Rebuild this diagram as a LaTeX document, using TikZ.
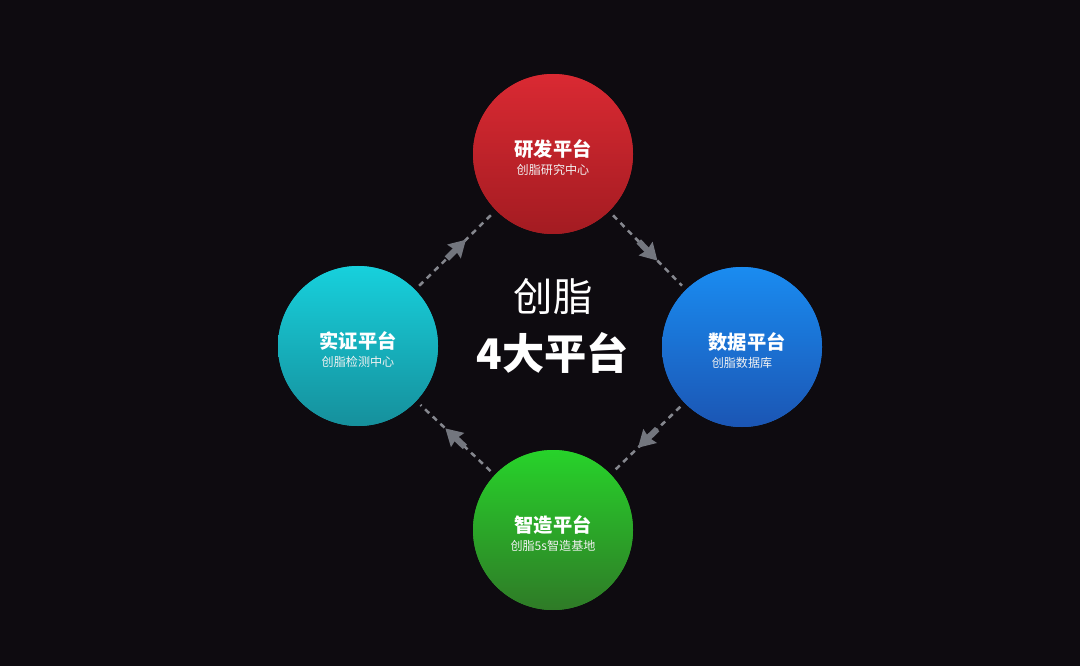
\documentclass[tikz,border=0pt]{standalone}
\usepackage{fontspec}
\setmainfont{Noto Sans CJK SC}
\usetikzlibrary{positioning,arrows.meta,decorations.markings}

\definecolor{bg}{HTML}{0E0B10}
\definecolor{linegray}{HTML}{85878E}
\definecolor{headgray}{HTML}{73767E}
\definecolor{redtop}{HTML}{DB2A33}
\definecolor{redbot}{HTML}{A21B21}
\definecolor{tealtop}{HTML}{17D2DE}
\definecolor{tealbot}{HTML}{168E9A}
\definecolor{bluetop}{HTML}{1A8DF2}
\definecolor{bluebot}{HTML}{1B54B2}
\definecolor{greentop}{HTML}{27D52A}
\definecolor{greenbot}{HTML}{2F7827}

\tikzset{
	platform/.style={shape=circle, minimum size=4cm, inner sep=0pt, align=center, text=white,
		fill=#1top!50!#1bot,
		path picture={\shade[top color=#1top, bottom color=#1bot]
			([shift={(-3pt,-3pt)}]path picture bounding box.south west) rectangle
			([shift={(3pt,3pt)}]path picture bounding box.north east);}},
	link/.style={draw=linegray, line width=1.8pt, dash pattern=on 4pt off 3.5pt,
		shorten <=4pt, shorten >=4pt,
		postaction={decorate},
		decoration={markings, mark=at position 0.63 with {
			\fill[headgray] (0,0) -- (-12pt,7pt) -- (-10.5pt,0) -- (-12pt,-7pt) -- cycle;
			\fill[headgray] (-19pt,-2.2pt) rectangle (-10pt,2.2pt);}}}
}

\newcommand{\plat}[2]{{\fontsize{13.7}{16}\selectfont\bfseries\rule{0pt}{17pt}#1}\\[1pt]{\fontsize{8.6}{10}\selectfont\color{white!90!gray}#2}}

\begin{document}
\begin{tikzpicture}
	\fill[bg] (0,0) rectangle (27,16.65);
	\useasboundingbox (0,0) rectangle (27,16.65);

	\node[platform=red] (rd) at (13.825,12.8) {\plat{研发平台}{创脂研究中心}};
	\node[platform=blue] (data) at (18.55,7.975) {\hspace{0.25cm}\plat{数据平台}{创脂数据库}};
	\node[platform=green] (mfg) at (13.825,3.4) {\plat{智造平台}{创脂5s智造基地}};
	\node[platform=teal] (test) at (8.95,8.0) {\plat{实证平台}{创脂检测中心}};

	\node[text=white, font=\fontsize{28}{32}\selectfont] (brand) at (13.825,9.225) {创脂};
	\node[text=white, font=\fontsize{30}{34}\selectfont\bfseries] (four) at (13.825,7.825) {4大平台};

	\path [link] (test) -- (rd);
	\path [link] (rd) -- (data);
	\path [link] (data) -- (mfg);
	\path [link] (mfg) -- (test);
\end{tikzpicture}
\end{document}
